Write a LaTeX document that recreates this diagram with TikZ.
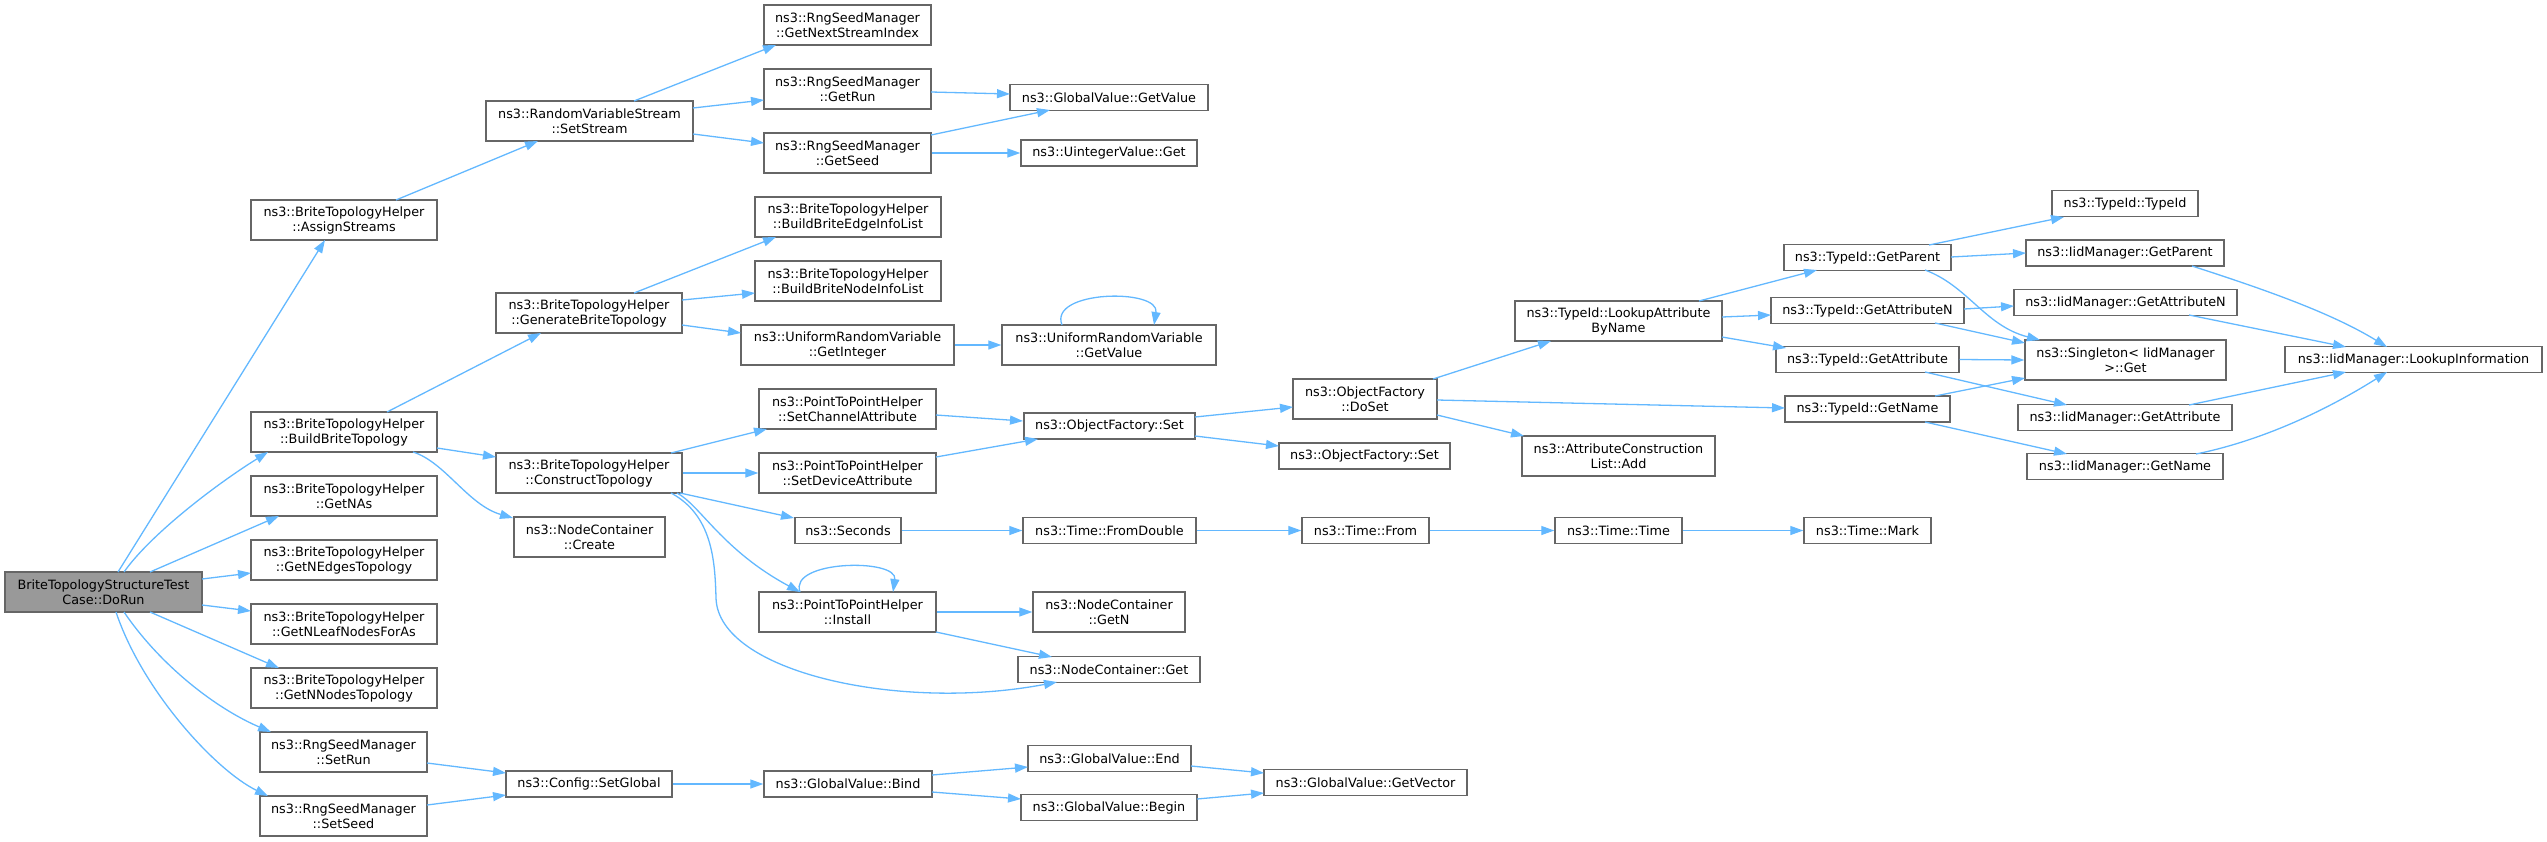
\documentclass[tikz,border=0pt]{standalone}
\usepackage{fontspec}
\setmainfont{DejaVu Sans}
\usetikzlibrary{arrows.meta,calc}
\definecolor{edgeblue}{HTML}{63B8FF}
\definecolor{boxgray}{HTML}{666666}
\definecolor{rootfill}{HTML}{999999}
\tikzset{
  box/.style={draw=boxgray, line width=1.4pt, fill=white, inner sep=0pt, align=center,
    font=\fontsize{12.8}{15}\selectfont, text=black},
  bone/.style={box, minimum height=26pt},
  btwo/.style={box, minimum height=40pt},
  e/.style={draw=edgeblue, line width=1.3pt, -{Triangle[length=13pt,width=9pt]}, fill=none}
}
\begin{document}
\begin{tikzpicture}[x=1pt,y=-1pt]
\useasboundingbox (0,0) rectangle (2547,841);

% column 0
\node[btwo, minimum width=197pt, fill=rootfill] (dorun) at (103.5,592) {BriteTopologyStructureTest\\Case::DoRun};
% column 1
\node[btwo, minimum width=186pt] (assign) at (344,220) {ns3::BriteTopologyHelper\\::AssignStreams};
\node[btwo, minimum width=186pt] (build) at (344,432) {ns3::BriteTopologyHelper\\::BuildBriteTopology};
\node[btwo, minimum width=186pt] (getnas) at (344,496) {ns3::BriteTopologyHelper\\::GetNAs};
\node[btwo, minimum width=186pt] (getnedges) at (344,560) {ns3::BriteTopologyHelper\\::GetNEdgesTopology};
\node[btwo, minimum width=186pt] (getnleaf) at (344,624) {ns3::BriteTopologyHelper\\::GetNLeafNodesForAs};
\node[btwo, minimum width=186pt] (getnnodes) at (344,688) {ns3::BriteTopologyHelper\\::GetNNodesTopology};
\node[btwo, minimum width=167pt] (setrun) at (343.5,752) {ns3::RngSeedManager\\::SetRun};
\node[btwo, minimum width=167pt] (setseed) at (343.5,816) {ns3::RngSeedManager\\::SetSeed};
% column 2
\node[btwo, minimum width=207pt] (setstream) at (589.5,121) {ns3::RandomVariableStream\\::SetStream};
\node[btwo, minimum width=186pt] (generate) at (589,313) {ns3::BriteTopologyHelper\\::GenerateBriteTopology};
\node[btwo, minimum width=186pt] (construct) at (589,473) {ns3::BriteTopologyHelper\\::ConstructTopology};
\node[btwo, minimum width=151pt] (create) at (589.5,537) {ns3::NodeContainer\\::Create};
\node[bone, minimum width=166pt] (setglobal) at (589,784) {ns3::Config::SetGlobal};
% column 3
\node[btwo, minimum width=167pt] (nextstream) at (847.5,25) {ns3::RngSeedManager\\::GetNextStreamIndex};
\node[btwo, minimum width=167pt] (getrun) at (847.5,89) {ns3::RngSeedManager\\::GetRun};
\node[btwo, minimum width=167pt] (getseed) at (847.5,153) {ns3::RngSeedManager\\::GetSeed};
\node[btwo, minimum width=186pt] (edgeinfo) at (848,217) {ns3::BriteTopologyHelper\\::BuildBriteEdgeInfoList};
\node[btwo, minimum width=186pt] (nodeinfo) at (848,281) {ns3::BriteTopologyHelper\\::BuildBriteNodeInfoList};
\node[btwo, minimum width=213pt] (getinteger) at (847.5,345) {ns3::UniformRandomVariable\\::GetInteger};
\node[btwo, minimum width=177pt] (setchan) at (847.5,409) {ns3::PointToPointHelper\\::SetChannelAttribute};
\node[btwo, minimum width=177pt] (setdev) at (847.5,473) {ns3::PointToPointHelper\\::SetDeviceAttribute};
\node[bone, minimum width=106pt] (seconds) at (848,530.5) {ns3::Seconds};
\node[btwo, minimum width=177pt] (install) at (847.5,612) {ns3::PointToPointHelper\\::Install};
\node[bone, minimum width=168pt] (bind) at (848,784) {ns3::GlobalValue::Bind};
% column 4
\node[bone, minimum width=198pt] (gvgetvalue) at (1109,97.5) {ns3::GlobalValue::GetValue};
\node[bone, minimum width=176pt] (uinteger) at (1109,153) {ns3::UintegerValue::Get};
\node[btwo, minimum width=214pt] (urvgetvalue) at (1109,345) {ns3::UniformRandomVariable\\::GetValue};
\node[bone, minimum width=171pt] (ofset) at (1109.5,426) {ns3::ObjectFactory::Set};
\node[bone, minimum width=173pt] (fromdouble) at (1109.5,530.5) {ns3::Time::FromDouble};
\node[btwo, minimum width=152pt] (getn) at (1109,612) {ns3::NodeContainer\\::GetN};
\node[bone, minimum width=182pt] (ncget) at (1109,669.5) {ns3::NodeContainer::Get};
\node[bone, minimum width=163pt] (gvend) at (1109.5,758.5) {ns3::GlobalValue::End};
\node[bone, minimum width=176pt] (gvbegin) at (1109,807.5) {ns3::GlobalValue::Begin};
% column 5
\node[btwo, minimum width=144pt] (doset) at (1365,399) {ns3::ObjectFactory\\::DoSet};
\node[bone, minimum width=171pt] (ofset2) at (1364.5,456) {ns3::ObjectFactory::Set};
\node[bone, minimum width=127pt] (timefrom) at (1365.5,530.5) {ns3::Time::From};
\node[bone, minimum width=203pt] (getvector) at (1365.5,782.5) {ns3::GlobalValue::GetVector};
% column 6
\node[btwo, minimum width=207pt] (lookup) at (1618.5,321) {ns3::TypeId::LookupAttribute\\ByName};
\node[btwo, minimum width=193pt] (attradd) at (1618.5,456) {ns3::AttributeConstruction\\List::Add};
\node[bone, minimum width=127pt] (timetime) at (1618.5,530.5) {ns3::Time::Time};
% column 7
\node[bone, minimum width=167pt] (tgetparent) at (1867.5,257.5) {ns3::TypeId::GetParent};
\node[bone, minimum width=193pt] (tgetattrn) at (1867.5,310.5) {ns3::TypeId::GetAttributeN};
\node[bone, minimum width=183pt] (tgetattr) at (1867.5,359.5) {ns3::TypeId::GetAttribute};
\node[bone, minimum width=165pt] (tgetname) at (1867.5,409) {ns3::TypeId::GetName};
\node[bone, minimum width=127pt] (timemark) at (1867.5,530.5) {ns3::Time::Mark};
% column 8
\node[bone, minimum width=146pt] (typeid) at (2125,203.5) {ns3::TypeId::TypeId};
\node[bone, minimum width=198pt] (igetparent) at (2125,253) {ns3::IidManager::GetParent};
\node[bone, minimum width=223pt] (igetattrn) at (2125.5,302.5) {ns3::IidManager::GetAttributeN};
\node[btwo, minimum width=201pt] (singleton) at (2125.5,360) {ns3::Singleton< IidManager\\>::Get};
\node[bone, minimum width=214pt] (igetattr) at (2125,417.5) {ns3::IidManager::GetAttribute};
\node[bone, minimum width=196pt] (igetname) at (2125,466.5) {ns3::IidManager::GetName};
% column 9
\node[bone, minimum width=257pt] (lookupinfo) at (2413.5,359.5) {ns3::IidManager::LookupInformation};

% ---- edges ----
% from DoRun
\draw[e] ($(dorun.center)+(14.5,-20)$) -- ($(assign.center)+(-19,20)$);
\draw[e] ($(dorun.center)+(20.5,-20)$) .. controls (150,535) and (215,485) .. ($(build.center)+(-76,20)$);
\draw[e] ($(dorun.center)+(46.5,-20)$) -- ($(getnas.center)+(-65,20)$);
\draw[e] ($(dorun.center)+(98.5,-13)$) -- ($(getnedges.center)+(-93,13)$);
\draw[e] ($(dorun.center)+(98.5,13)$) -- ($(getnleaf.center)+(-93,-13)$);
\draw[e] ($(dorun.center)+(46.5,20)$) -- ($(getnnodes.center)+(-65,-20)$);
\draw[e] ($(dorun.center)+(20.5,20)$) .. controls (160,665) and (215,708) .. ($(setrun.center)+(-72.5,-20)$);
\draw[e] ($(dorun.center)+(12.5,20)$) .. controls (142,690) and (215,770) .. ($(setseed.center)+(-75.5,-20)$);
% column 1 outgoing
\draw[e] ($(assign.center)+(52,-20)$) -- ($(setstream.center)+(-51.5,20)$);
\draw[e] ($(build.center)+(43,-20)$) -- ($(generate.center)+(-48,20)$);
\draw[e] ($(build.center)+(93,16)$) -- ($(construct.center)+(-93,-16)$);
\draw[e] ($(build.center)+(69,20)$) .. controls (445,462) and (468,505) .. ($(create.center)+(-76.5,-19)$);
\draw[e] ($(setrun.center)+(83.5,11)$) -- ($(setglobal.center)+(-83,-11)$);
\draw[e] ($(setseed.center)+(83.5,-11)$) -- ($(setglobal.center)+(-83,11)$);
% column 2 outgoing
\draw[e] (setglobal.east) -- (bind.west);
\draw[e] ($(setstream.center)+(44.5,-20)$) -- ($(nextstream.center)+(-71.5,20)$);
\draw[e] ($(setstream.center)+(103.5,-13)$) -- ($(getrun.center)+(-83.5,11)$);
\draw[e] ($(setstream.center)+(103.5,13)$) -- ($(getseed.center)+(-83.5,-10)$);
\draw[e] ($(generate.center)+(45,-20)$) -- ($(edgeinfo.center)+(-72,20)$);
\draw[e] ($(generate.center)+(93,-13)$) -- ($(nodeinfo.center)+(-93,12)$);
\draw[e] ($(generate.center)+(93,12)$) -- ($(getinteger.center)+(-106.5,-12)$);
\draw[e] ($(construct.center)+(82,-20)$) -- ($(setchan.center)+(-80.5,20)$);
\draw[e] (construct.east) -- (setdev.west);
\draw[e] ($(construct.center)+(91,20)$) -- ($(seconds.center)+(-54,-12.5)$);
\draw[e] ($(construct.center)+(88,20)$) .. controls (700,505) and (722,550) .. ($(install.center)+(-47.5,-20)$);
\draw[e] ($(construct.center)+(82,20)$) .. controls (712,515) and (715,560) .. (716,598) .. controls (718,672) and (900,712) .. ($(ncget.center)+(-52,12.5)$);
% column 3 outgoing
\draw[e] ($(getrun.center)+(83.5,3)$) -- ($(gvgetvalue.center)+(-99,-3.5)$);
\draw[e] ($(getseed.center)+(83.5,-18)$) -- ($(gvgetvalue.center)+(-59,12.5)$);
\draw[e] (getseed.east) -- (uinteger.west);
\draw[e] (getinteger.east) -- (urvgetvalue.west);
\draw[e] ($(urvgetvalue.center)+(-47,-20)$) .. controls (1048,290) and (1160,288) .. ($(urvgetvalue.center)+(45,-20)$);
\draw[e] ($(setchan.center)+(88.5,6)$) -- ($(ofset.center)+(-86.5,-5)$);
\draw[e] ($(setdev.center)+(88.5,-16)$) -- ($(ofset.center)+(-71.5,13)$);
\draw[e] (seconds.east) -- (fromdouble.west);
\draw[e] ($(install.center)+(-47.5,-20)$) .. controls (788,560) and (898,558) .. ($(install.center)+(45.5,-20)$);
\draw[e] (install.east) -- (getn.west);
\draw[e] ($(install.center)+(88.5,20)$) -- ($(ncget.center)+(-57,-12.5)$);
\draw[e] ($(bind.center)+(84,-9)$) -- ($(gvend.center)+(-81.5,8.5)$);
\draw[e] ($(bind.center)+(84,8)$) -- ($(gvbegin.center)+(-88,-8.5)$);
% column 4 outgoing
\draw[e] ($(ofset.center)+(85.5,-9)$) -- ($(doset.center)+(-72,8)$);
\draw[e] ($(ofset.center)+(85.5,10)$) -- ($(ofset2.center)+(-85.5,-10)$);
\draw[e] (fromdouble.east) -- (timefrom.west);
\draw[e] ($(gvend.center)+(81.5,7.5)$) -- ($(getvector.center)+(-101.5,-9.5)$);
\draw[e] ($(gvbegin.center)+(88,-8.5)$) -- ($(getvector.center)+(-101.5,10.5)$);
% column 5 outgoing
\draw[e] ($(doset.center)+(68,-20)$) -- ($(lookup.center)+(-67.5,20)$);
\draw[e] ($(doset.center)+(72,1)$) -- ($(tgetname.center)+(-82.5,-1)$);
\draw[e] ($(doset.center)+(72,16)$) -- ($(attradd.center)+(-94.5,-20)$);
\draw[e] (timefrom.east) -- (timetime.west);
% column 6 outgoing
\draw[e] ($(lookup.center)+(80.5,-20)$) -- ($(tgetparent.center)+(-50.5,12.5)$);
\draw[e] ($(lookup.center)+(103.5,-4)$) -- ($(tgetattrn.center)+(-96.5,4.5)$);
\draw[e] ($(lookup.center)+(103.5,16)$) -- ($(tgetattr.center)+(-81.5,-11.5)$);
\draw[e] (timetime.east) -- (timemark.west);
% column 7 outgoing
\draw[e] ($(tgetparent.center)+(61.5,-12.5)$) -- ($(typeid.center)+(-61,13.5)$);
\draw[e] ($(tgetparent.center)+(83.5,-0.5)$) -- ($(igetparent.center)+(-99,0)$);
\draw[e] ($(tgetparent.center)+(57.5,12.5)$) .. controls (1968,286) and (1985,326) .. ($(singleton.center)+(-85.5,-20)$);
\draw[e] ($(tgetattrn.center)+(96.5,-1.5)$) -- ($(igetattrn.center)+(-111.5,3.5)$);
\draw[e] ($(tgetattrn.center)+(67.5,12.5)$) -- ($(singleton.center)+(-100.5,-17)$);
\draw[e] (tgetattr.east) -- (singleton.west);
\draw[e] ($(tgetattr.center)+(57.5,12.5)$) -- ($(igetattr.center)+(-58,-12.5)$);
\draw[e] ($(tgetname.center)+(67.5,-13)$) -- ($(singleton.center)+(-100.5,18)$);
\draw[e] ($(tgetname.center)+(57.5,13)$) -- ($(igetname.center)+(-58,-12.5)$);
% column 8 outgoing
\draw[e] ($(igetparent.center)+(67,13)$) .. controls (2260,288) and (2330,312) .. ($(lookupinfo.center)+(-26.5,-12.5)$);
\draw[e] ($(igetattrn.center)+(63.5,12.5)$) -- ($(lookupinfo.center)+(-67.5,-12.5)$);
\draw[e] ($(igetattr.center)+(64,-12.5)$) -- ($(lookupinfo.center)+(-67.5,12.5)$);
\draw[e] ($(igetname.center)+(71,-12.5)$) .. controls (2265,440) and (2330,408) .. ($(lookupinfo.center)+(-26.5,12.5)$);
\end{tikzpicture}
\end{document}
